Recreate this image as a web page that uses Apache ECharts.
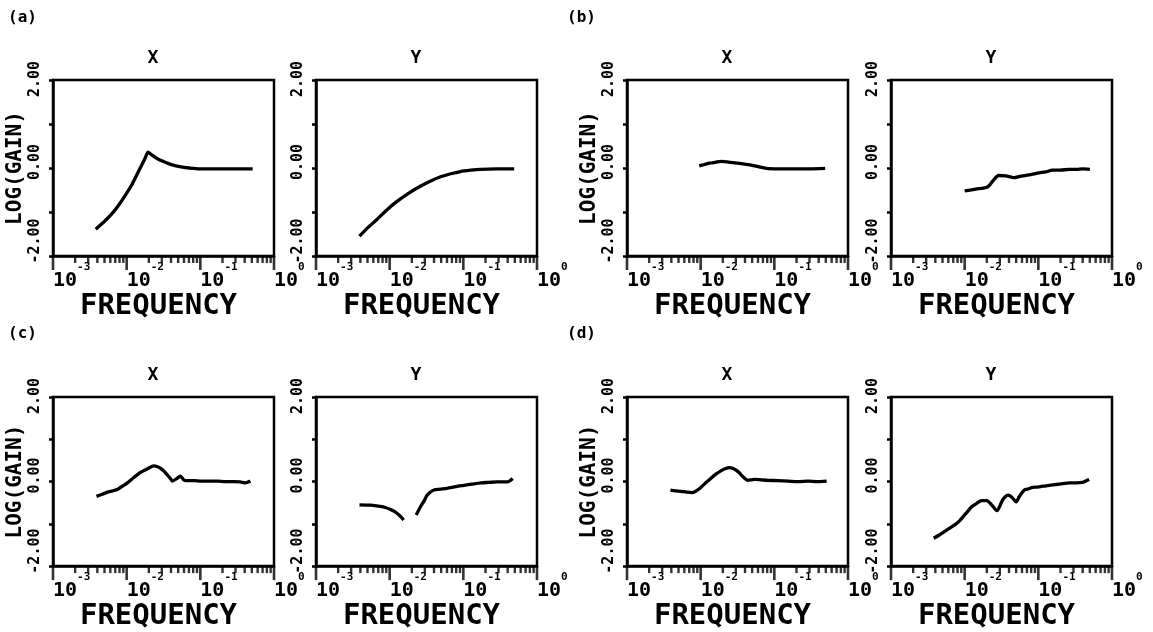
<!DOCTYPE html>
<html>
<head>
<meta charset="utf-8">
<script src="https://cdn.jsdelivr.net/npm/echarts@6/dist/echarts.min.js"></script>
<style>html,body{margin:0;padding:0;background:#fff;}#c{width:1153px;height:632px;}</style>
</head>
<body>
<div id="c"></div>
<script>
// ---- data: x values are log10(frequency), y values are log10(gain) ----
const aX_logf = [-2.42,-2.30,-2.19,-2.09,-2.00,-1.93,-1.87,-1.80,-1.75,-1.71,-1.66,-1.60,-1.55,-1.46,-1.38,-1.28,-1.15,-1.01,-0.80,-0.55,-0.29];
const aX_gain = [-1.39,-1.21,-1.02,-0.80,-0.57,-0.38,-0.18,0.05,0.22,0.36,0.30,0.23,0.18,0.12,0.07,0.03,0.00,-0.02,-0.02,-0.02,-0.02];
const aY_logf = [-2.41,-2.30,-2.18,-2.05,-1.91,-1.75,-1.59,-1.45,-1.31,-1.17,-1.04,-0.90,-0.77,-0.55,-0.31];
const aY_gain = [-1.55,-1.36,-1.18,-0.97,-0.77,-0.58,-0.42,-0.30,-0.20,-0.13,-0.08,-0.05,-0.03,-0.02,-0.02];
const bX_logf = [-2.02,-1.95,-1.88,-1.80,-1.72,-1.64,-1.56,-1.45,-1.33,-1.22,-1.11,-0.95,-0.74,-0.52,-0.31];
const bX_gain = [0.05,0.08,0.11,0.13,0.15,0.14,0.12,0.10,0.07,0.03,-0.01,-0.02,-0.02,-0.02,-0.01];
const bY_logf = [-2.00,-1.85,-1.69,-1.62,-1.54,-1.44,-1.33,-1.25,-1.17,-1.08,-0.99,-0.90,-0.81,-0.70,-0.58,-0.48,-0.40,-0.30];
const bY_gain = [-0.52,-0.48,-0.43,-0.30,-0.17,-0.18,-0.22,-0.19,-0.17,-0.14,-0.11,-0.09,-0.05,-0.05,-0.03,-0.03,-0.02,-0.03];
const cX_logf = [-2.41,-2.33,-2.26,-2.19,-2.12,-2.05,-1.99,-1.90,-1.81,-1.72,-1.63,-1.58,-1.54,-1.49,-1.45,-1.41,-1.38,-1.32,-1.27,-1.22,-1.15,-1.08,-1.00,-0.90,-0.77,-0.66,-0.55,-0.46,-0.39,-0.32];
const cX_gain = [-0.35,-0.30,-0.25,-0.22,-0.18,-0.10,-0.03,0.10,0.22,0.30,0.37,0.35,0.31,0.24,0.16,0.08,0.01,0.07,0.13,0.03,0.02,0.02,0.01,0.01,0.01,0.00,0.00,-0.01,-0.03,0.01];
const cY_logf = [-2.41,-2.26,-2.13,-2.05,-1.99,-1.93,-1.88,-1.84,-1.81,null,-1.64,-1.61,-1.58,-1.53,-1.49,-1.44,-1.40,-1.31,-1.22,-1.10,-0.99,-0.88,-0.76,-0.65,-0.54,-0.47,-0.40,-0.33];
const cY_gain = [-0.55,-0.56,-0.59,-0.62,-0.66,-0.71,-0.78,-0.85,-0.91,null,-0.79,-0.69,-0.59,-0.45,-0.32,-0.24,-0.20,-0.18,-0.16,-0.12,-0.09,-0.06,-0.03,-0.02,-0.01,-0.01,-0.01,0.07];
const dX_logf = [-2.41,-2.34,-2.27,-2.19,-2.11,-2.05,-2.00,-1.93,-1.86,-1.79,-1.72,-1.66,-1.61,-1.56,-1.52,-1.47,-1.43,-1.36,-1.31,-1.27,-1.18,-1.09,-0.95,-0.81,-0.68,-0.54,-0.41,-0.29];
const dX_gain = [-0.20,-0.22,-0.23,-0.25,-0.26,-0.21,-0.14,-0.03,0.08,0.18,0.26,0.31,0.33,0.31,0.27,0.20,0.12,0.03,0.04,0.05,0.04,0.03,0.02,0.01,0.00,0.01,0.00,0.01];
const dY_logf = [-2.42,-2.35,-2.29,-2.21,-2.13,-2.07,-2.02,-1.96,-1.91,-1.84,-1.77,-1.70,-1.64,-1.56,-1.52,-1.49,-1.45,-1.41,-1.36,-1.30,-1.26,-1.19,-1.13,-1.08,-1.01,-0.94,-0.85,-0.76,-0.67,-0.58,-0.49,-0.40,-0.36,-0.31];
const dY_gain = [-1.34,-1.27,-1.20,-1.11,-1.02,-0.93,-0.83,-0.71,-0.60,-0.52,-0.45,-0.45,-0.54,-0.69,-0.57,-0.45,-0.36,-0.32,-0.37,-0.48,-0.36,-0.20,-0.17,-0.14,-0.13,-0.11,-0.09,-0.07,-0.05,-0.03,-0.03,-0.02,0.01,0.05];

// axis tick labels
const xDecades = [-3, -2, -1, 0];
const xTickBase = '10';
const xTickExps = ['-3', '-2', '-1', '0'];
const yLabelValues = [-2, 0, 2];
const yLabelTexts = ['-2.00', '0.00', '2.00'];
const minorMultipliers = [2, 3, 4, 5, 6, 7, 8, 9];

// panel text
const panelTitles = ['X', 'Y', 'X', 'Y', 'X', 'Y', 'X', 'Y'];
const panelTags = ['(a)', '(b)', '(c)', '(d)'];
const xAxisTitle = 'FREQUENCY';
const yAxisTitle = 'LOG(GAIN)';

const panelLogf = [aX_logf, aY_logf, bX_logf, bY_logf, cX_logf, cY_logf, dX_logf, dY_logf];
const panelGain = [aX_gain, aY_gain, bX_gain, bY_gain, cX_gain, cY_gain, dX_gain, dY_gain];

// ---- layout / style ----
const FONT = 'DejaVu Sans Mono';
const gridLefts = [53, 316, 627, 891];
const gridTops = [80, 397];
const GW = 221, GH = 176;
const yLabelStyleKey = { '-2': 'lo', '0': 'mid', '2': 'hi' };

const minorTickPositions = [];
for (let d = -3; d < 0; d++) {
  minorMultipliers.forEach(k => minorTickPositions.push([d + Math.log10(k), -2]));
}
const majorTickPositions = xDecades.map(d => [d, -2]);

const grids = [], xAxes = [], yAxes = [], series = [], graphics = [];
for (let i = 0; i < 8; i++) {
  const row = Math.floor(i / 4);
  const col = i % 4;
  const left = gridLefts[col], top = gridTops[row];
  grids.push({ left: left, top: top, width: GW, height: GH, show: true,
    borderColor: '#000', borderWidth: 2.5, backgroundColor: 'transparent' });
  xAxes.push({
    type: 'value', gridIndex: i, min: -3, max: 0, interval: 1,
    axisLine: { show: true, onZero: false, lineStyle: { color: '#000', width: 2.5 } },
    axisTick: { show: false },
    splitLine: { show: false },
    axisLabel: {
      show: true, margin: 6, align: 'left',
      formatter: v => {
        const idx = xDecades.indexOf(Math.round(v));
        return '{b|' + xTickBase + '}{s|' + xTickExps[idx] + '}';
      },
      rich: {
        b: { fontFamily: FONT, fontSize: 20, fontWeight: 'bold', color: '#000', padding: [9, 0, 0, 0] },
        s: { fontFamily: FONT, fontSize: 11, fontWeight: 'bold', color: '#000', verticalAlign: 'top' }
      }
    },
    name: xAxisTitle, nameLocation: 'middle', nameGap: 27,
    nameTextStyle: { fontFamily: FONT, fontSize: 29, color: '#000', fontWeight: 'bold', padding: [0, 10, 0, 0] }
  });
  yAxes.push({
    type: 'value', gridIndex: i, min: -2, max: 2, interval: 1,
    axisLine: { show: true, onZero: false, lineStyle: { color: '#000', width: 2.5 } },
    axisTick: { show: true, length: 4, lineStyle: { color: '#000', width: 2.5 } },
    splitLine: { show: false },
    axisLabel: {
      show: true, rotate: 90, margin: 10,
      fontFamily: FONT, fontSize: 15, fontWeight: 'bold', color: '#000',
      formatter: v => {
        const idx = yLabelValues.indexOf(Math.round(v));
        return idx >= 0 ? '{' + yLabelStyleKey[String(yLabelValues[idx])] + '|' + yLabelTexts[idx] + '}' : '';
      },
      rich: {
        lo: { fontFamily: FONT, fontSize: 15, fontWeight: 'bold', color: '#000', padding: [0, 0, 0, 30] },
        mid: { fontFamily: FONT, fontSize: 15, fontWeight: 'bold', color: '#000', padding: [0, 0, 0, 12] },
        hi: { fontFamily: FONT, fontSize: 15, fontWeight: 'bold', color: '#000', padding: [0, 0, 0, 2] }
      }
    },
    name: col % 2 === 0 ? yAxisTitle : '', nameLocation: 'middle', nameGap: 27, nameRotate: 90,
    nameTextStyle: { fontFamily: FONT, fontSize: 21, color: '#000', fontWeight: 'bold' }
  });
  series.push({
    type: 'line', xAxisIndex: i, yAxisIndex: i, showSymbol: false, symbol: 'none',
    connectNulls: false, smooth: 0.25,
    lineStyle: { color: '#000', width: 3.3 },
    data: panelLogf[i].map((x, j) => x === null ? [null, null] : [x, panelGain[i][j]]),
    silent: true, animation: false
  });
  series.push({
    type: 'scatter', xAxisIndex: i, yAxisIndex: i, silent: true, animation: false, clip: false, z: 5,
    symbol: 'rect', symbolSize: [2.4, 7], symbolOffset: [0, 3.5],
    itemStyle: { color: '#000' },
    data: minorTickPositions
  });
  series.push({
    type: 'scatter', xAxisIndex: i, yAxisIndex: i, silent: true, animation: false, clip: false, z: 5,
    symbol: 'rect', symbolSize: [2.6, 14], symbolOffset: [0, 7],
    itemStyle: { color: '#000' },
    data: majorTickPositions
  });
  graphics.push({
    type: 'text', left: left + GW / 2 - 16, top: top - 31,
    style: { text: panelTitles[i], font: 'bold 18px ' + FONT, fill: '#000' }
  });
}
panelTags.forEach((t, k) => {
  graphics.push({
    type: 'text', left: (k % 2 === 0) ? 8 : 567, top: (k < 2) ? 10 : 326,
    style: { text: t, font: 'bold 16px ' + FONT, fill: '#000' }
  });
});

const chart = echarts.init(document.getElementById('c'), null, { renderer: 'canvas' });
chart.setOption({
  animation: false,
  backgroundColor: '#fff',
  grid: grids, xAxis: xAxes, yAxis: yAxes, series: series, graphic: graphics
});
</script>
</body>
</html>
